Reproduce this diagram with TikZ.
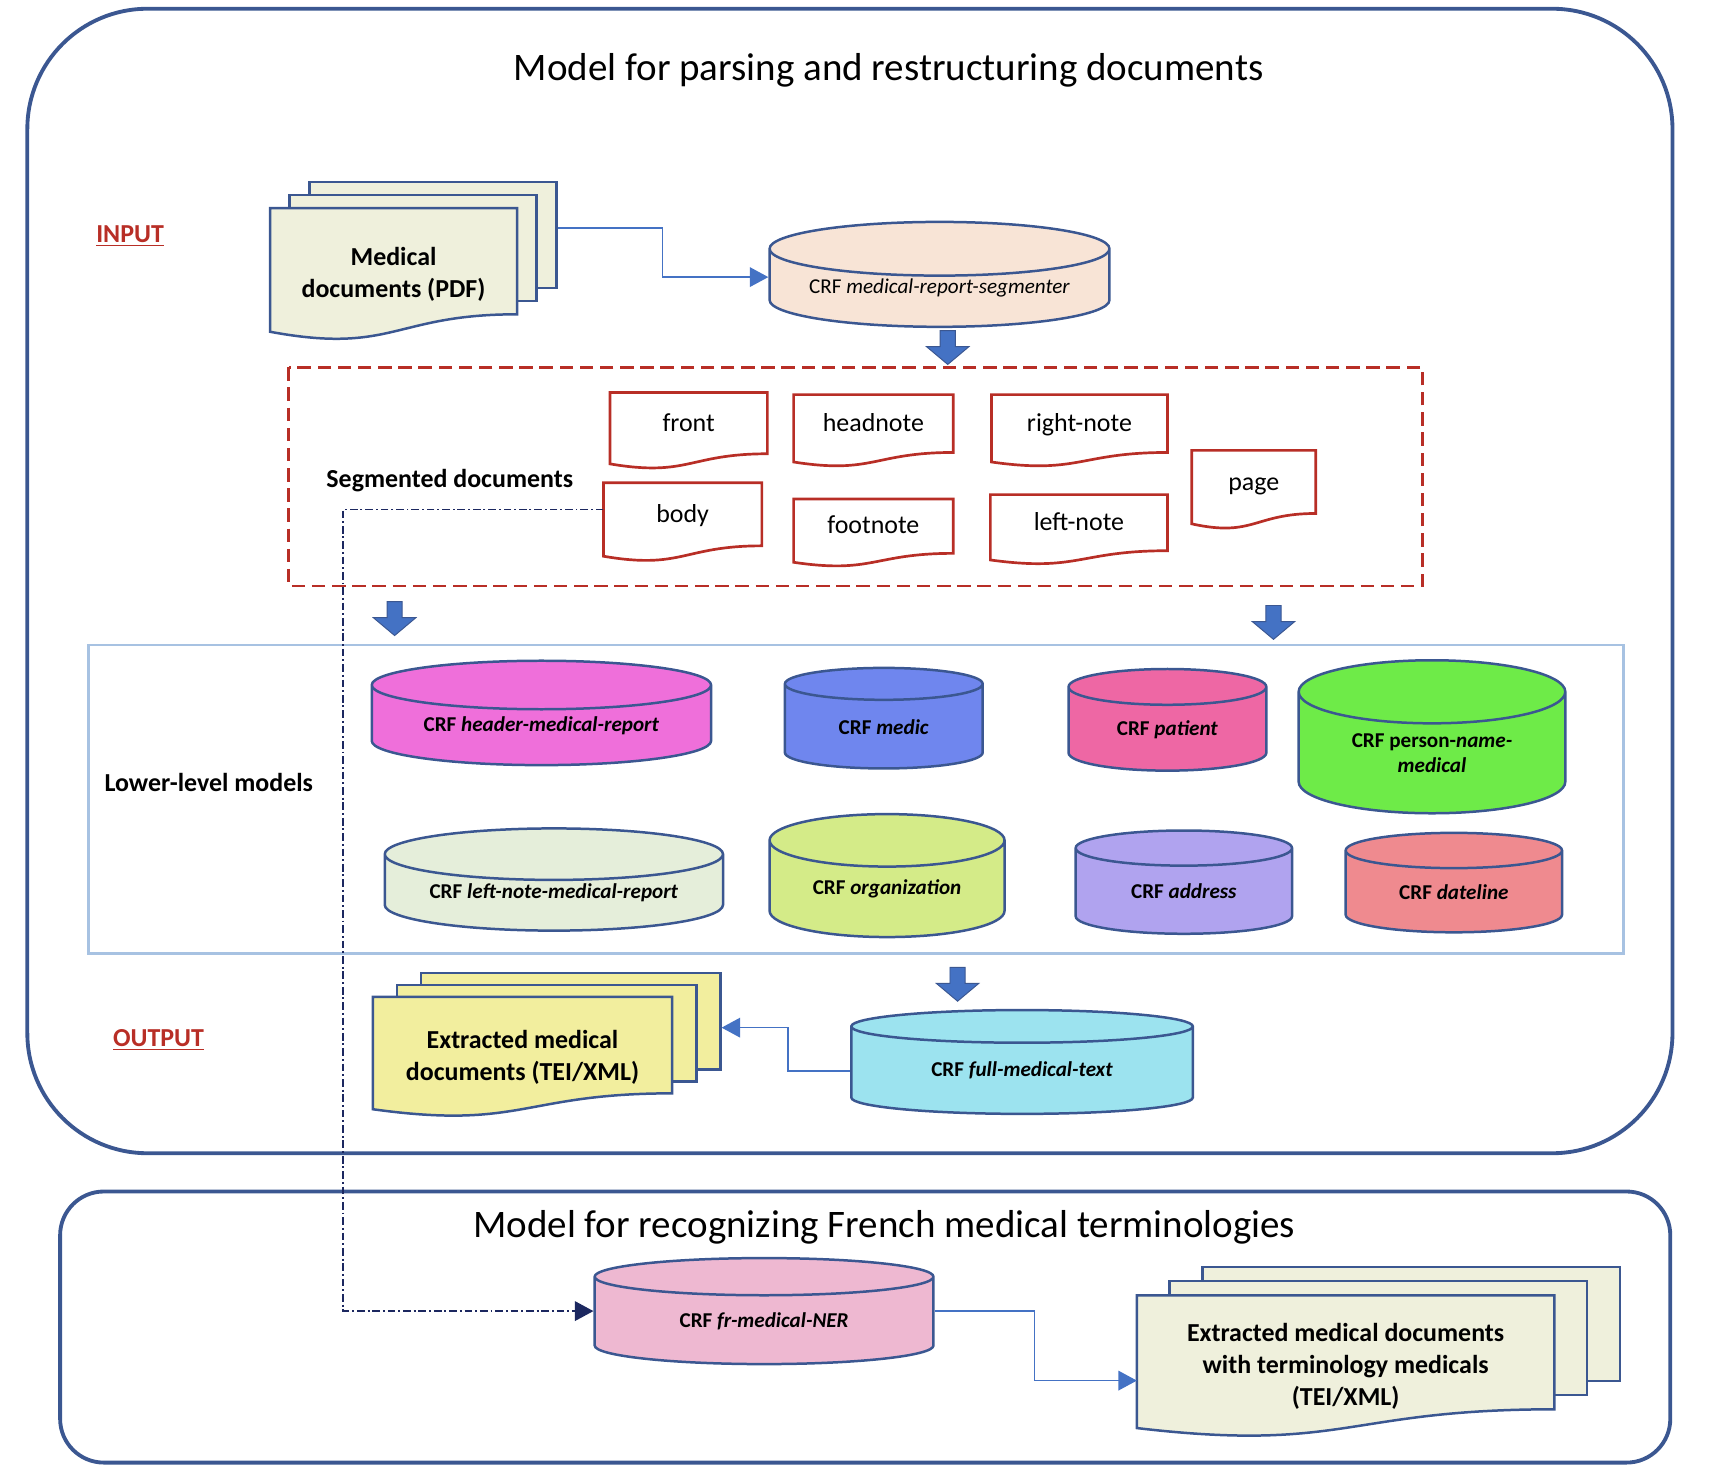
\documentclass[tikz,border=0pt]{standalone}
\usepackage{fontspec}
\setmainfont{Carlito}
\usetikzlibrary{
	arrows.meta,
	calc,
	positioning,
	fit,
	shapes.geometric,
	shapes.arrows,
	backgrounds
}
\definecolor{FrameBlue}{RGB}{59,87,145}
\definecolor{FlowBlue}{RGB}{68,114,196}
\definecolor{LinkNavy}{RGB}{28,40,96}
\definecolor{SegRed}{RGB}{184,46,38}
\definecolor{BoxBlue}{RGB}{167,194,226}
\definecolor{PageBeige}{RGB}{239,240,220}
\definecolor{PageYellow}{RGB}{242,238,158}
\definecolor{CylPeach}{RGB}{248,228,214}
\definecolor{CylMagenta}{RGB}{239,111,218}
\definecolor{CylBlue}{RGB}{111,134,238}
\definecolor{CylRose}{RGB}{238,103,164}
\definecolor{CylGreen}{RGB}{110,235,72}
\definecolor{CylSage}{RGB}{229,238,218}
\definecolor{CylLime}{RGB}{212,235,136}
\definecolor{CylLilac}{RGB}{176,163,239}
\definecolor{CylSalmon}{RGB}{239,138,143}
\definecolor{CylCyan}{RGB}{156,227,239}
\definecolor{CylPink}{RGB}{238,184,209}

% wavy page outline behind node #1
\newcommand{\wavesheet}[2]{%
	\begin{pgfonlayer}{background}
		\path[#2] (#1.north west) -- (#1.north east)
			-- ($(#1.north east)!0.802!(#1.south east)$)
			.. controls ($(#1.north)!0.802!(#1.south)$) and ($(#1.north)!1.107!(#1.south)$)
			.. ($(#1.north west)!0.934!(#1.south west)$) -- cycle;
	\end{pgfonlayer}}
% stack of pages: #1 front node, #2 fill, #3/#4 offset right/up
\newcommand{\pagestack}[4]{%
	\begin{pgfonlayer}{background}
		\foreach \k in {2,1}{
			\coordinate (nw) at ($(#1.north west)+(\k*#3,-\k*#4)$);
			\coordinate (se) at ($(#1.north east)!0.802!(#1.south east)+(\k*#3,-\k*#4)$);
			\node[sheetline, fill=#2, fit=(nw)(se), inner sep=0pt] (#1-\k) {};
		}
	\end{pgfonlayer}
	\wavesheet{#1}{sheetline, fill=#2}}

\begin{document}
\begin{tikzpicture}[x=0.02cm, y=-0.02cm,
	frame/.style={draw=FrameBlue, line width=2pt},
	title/.style={font=\fontsize{20.3}{24}\selectfont},
	lbl/.style={font=\fontsize{13.5}{16.5}\selectfont\bfseries, align=center},
	iolabel/.style={font=\fontsize{13.5}{16.5}\selectfont\bfseries, text=SegRed},
	sheetline/.style={draw=FrameBlue, line width=1.3pt},
	docpage/.style={rectangle, inner sep=0pt, outer sep=0pt, align=center, font=\fontsize{13.5}{16.5}\selectfont\bfseries},
	segdoc/.style={rectangle, inner sep=0pt, outer sep=0pt, text height=0.33cm, text depth=0.3cm,
		font=\fontsize{13.5}{16.5}\selectfont},
	segline/.style={draw=SegRed, line width=1.4pt, fill=white},
	segbox/.style={draw=SegRed, line width=1.4pt, dash pattern=on 7pt off 3.5pt},
	lowbox/.style={draw=BoxBlue, line width=1.4pt},
	crf/.style={cylinder, shape border rotate=90, draw=FrameBlue, line width=1.3pt, inner sep=0pt,
		align=center, anchor=shape center, font=\fontsize{11}{13.5}\selectfont\bfseries},
	flow/.style={draw=FlowBlue, line width=0.8pt, -{Triangle[length=0.34cm, width=0.36cm]}},
	bodylink/.style={draw=LinkNavy, line width=0.8pt, dash pattern=on 4pt off 1.5pt on 1pt off 1.5pt,
		-{Triangle[length=0.34cm, width=0.36cm]}},
	blockarrow/.style={single arrow, shape border rotate=270, fill=FlowBlue, draw=FrameBlue, line width=0.5pt,
		inner sep=0.13cm, minimum height=0.62cm, minimum width=0.76cm, single arrow head extend=0.25cm,
		single arrow tip angle=100}
	]
	\useasboundingbox (0,0) rectangle (1568,1354);

	% frames
	\draw[frame, rounded corners=2.2cm] (25,8) rectangle (1530,1055);
	\draw[frame, rounded corners=0.8cm] (55,1090) rectangle (1528,1338);
	\node[title] (t1) at (813,64) {Model for parsing and restructuring documents};
	\node[title] (t2) at (809,1123) {Model for recognizing French medical terminologies};

	\node[iolabel] (inlbl) at (119,216) {\underline{INPUT}};
	\node[iolabel] (outlbl) at (145,951) {\underline{OUTPUT}};

	% input
	\node[docpage, minimum width=4.52cm, minimum height=2.42cm] (pdf) at (360,251) {Medical\\documents (PDF)};
	\pagestack{pdf}{PageBeige}{18}{12}
	\node[crf, fill=CylPeach, font=\fontsize{11}{13.5}\selectfont, minimum width=6.22cm, minimum height=1.92cm, aspect=0.206] (segm) at (859.5,251) {CRF \textit{medical-report-segmenter}};
	\draw[flow] ([yshift=0.13cm]pdf-2.east) -- ++(96,0) |- ([yshift=-0.05cm]segm.west |- segm.shape center);
	\node[blockarrow] (a1) at (867,315) {};

	% segmented documents
	\draw[segbox] (264,336) rectangle (1301,536);
	\node[lbl] (seglbl) at (411.5,440) {Segmented documents};
	\foreach \name/\x/\y/\w/\h/\txt in {
		sfront/630/394/2.88/1.40/front,
		shead/799/394/2.92/1.32/headnote,
		sright/987.5/394/3.22/1.32/right-note,
		sbody/624.5/477.6/2.90/1.44/body,
		sfoot/799/487.5/2.92/1.24/footnote,
		sleft/987/484.5/3.24/1.28/left-note,
		spage/1147/448/2.27/1.44/page}{
		\node[segdoc, minimum width=\w cm, minimum height=\h cm] (\name) at (\x,\y) {\txt};
		\wavesheet{\name}{segline}
	}
	\node[blockarrow] (a2) at (361,563) {};
	\node[blockarrow] (a3) at (1165,566.5) {};

	% lower-level models
	\draw[lowbox] (81,590) rectangle (1485,872);
	\node[lbl] (lowlbl) at (191,716) {Lower-level models};
	\node[crf, fill=CylMagenta, minimum width=6.21cm, minimum height=1.91cm, aspect=0.206] (header) at (495.3,652.2) {CRF \textit{header-medical-report}};
	\node[crf, fill=CylBlue, minimum width=3.62cm, minimum height=1.84cm, aspect=0.354] (medic) at (808.5,657) {CRF \textit{medic}};
	\node[crf, fill=CylRose, minimum width=3.62cm, minimum height=1.86cm, aspect=0.354] (patient) at (1068,658.5) {CRF \textit{patient}};
	\node[crf, fill=CylGreen, minimum width=4.88cm, minimum height=2.8cm, aspect=0.393] (person) at (1310,674) {CRF person-\textit{name-}\\\textit{medical}};
	\node[crf, fill=CylSage, minimum width=6.19cm, minimum height=1.87cm, aspect=0.207] (leftnote) at (506.7,804.6) {CRF \textit{left-note-medical-report}};
	\node[crf, fill=CylLime, minimum width=4.3cm, minimum height=2.25cm, aspect=0.353] (org) at (811.5,801) {CRF \textit{organization}};
	\node[crf, fill=CylLilac, minimum width=3.96cm, minimum height=1.89cm, aspect=0.333] (address) at (1083,807) {CRF \textit{address}};
	\node[crf, fill=CylSalmon, minimum width=3.96cm, minimum height=1.82cm, aspect=0.323] (dateline) at (1330,807.4) {CRF \textit{dateline}};
	\node[blockarrow] (a4) at (876,897.5) {};

	% output
	\node[docpage, minimum width=5.48cm, minimum height=2.2cm] (out) at (478,967) {Extracted medical\\documents (TEI/XML)};
	\pagestack{out}{PageYellow}{22}{11}
	\node[crf, fill=CylCyan, minimum width=6.25cm, minimum height=1.9cm, aspect=0.18] (fulltext) at (935,971.5) {CRF \textit{full-medical-text}};
	\draw[flow] (fulltext.west) -- ++(-57,0) |- ([yshift=-0.12cm]out-2.east);

	% terminology model
	\node[crf, fill=CylPink, minimum width=6.2cm, minimum height=1.94cm, aspect=0.22] (ner) at (699,1199.4) {CRF \textit{fr-medical-NER}};
	\node[docpage, minimum width=7.64cm, minimum height=2.6cm] (final) at (1231,1250) {Extracted medical documents\\with terminology medicals\\(TEI/XML)};
	\pagestack{final}{PageBeige}{30}{13}
	\draw[flow] (ner.east |- ner.shape center) -- ++(91,0) |- ([yshift=-0.26cm]final.west);
	\draw[bodylink] ([yshift=0.23cm]sbody.west) -- ++(-238,0) |- (ner.west |- ner.shape center);
\end{tikzpicture}
\end{document}
